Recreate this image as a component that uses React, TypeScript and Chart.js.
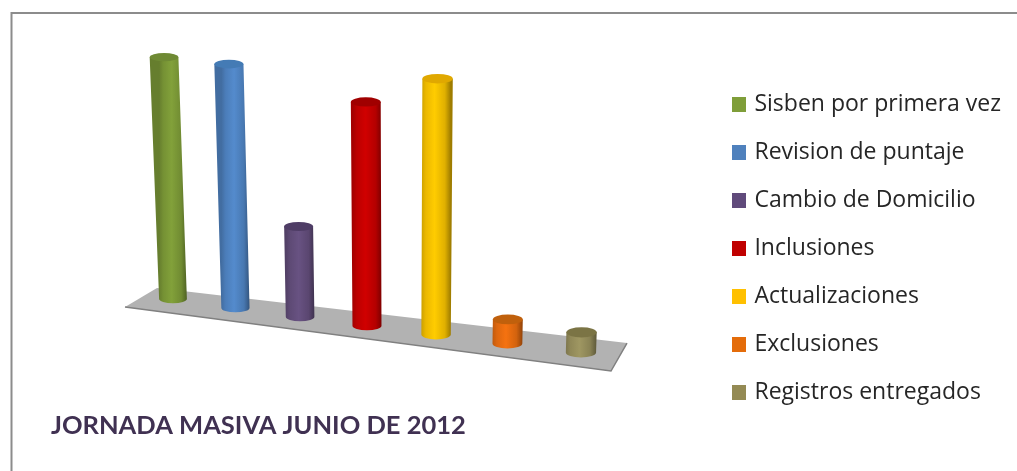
import React, { useEffect, useRef } from "react";
import { Chart, registerables } from "chart.js";

Chart.register(...registerables);

const categories = [
  "Sisben por primera vez",
  "Revision de puntaje",
  "Cambio de Domicilio",
  "Inclusiones",
  "Actualizaciones",
  "Exclusiones",
  "Registros entregados",
];
const values = [241, 243, 90, 223, 255, 24, 20];
const colors = ["#7f9e39", "#5288c9", "#66507f", "#cc0000", "#ffc800", "#f07010", "#9c9460"];
const swatchColors = ["#7f9e39", "#4f81bd", "#604a7b", "#c00000", "#ffc000", "#e46c0a", "#948a54"];
const capColors = ["#6f8a34", "#447bb5", "#4f3d66", "#a00000", "#e0a800", "#c0600c", "#7b7445"];
const titleText = "JORNADA MASIVA JUNIO DE 2012";

function shade(hex: string, k: number) {
  const n = parseInt(hex.slice(1), 16);
  const r = Math.min(255, Math.round(((n >> 16) & 255) * k));
  const g = Math.min(255, Math.round(((n >> 8) & 255) * k));
  const b = Math.min(255, Math.round((n & 255) * k));
  return `rgb(${r},${g},${b})`;
}

function swatch(color: string) {
  const c = document.createElement("canvas");
  c.width = 14;
  c.height = 15;
  const g = c.getContext("2d")!;
  g.fillStyle = color;
  g.fillRect(0, 0, 14, 15);
  return c;
}

const frame = {
  id: "frame",
  beforeDraw(chart: any) {
    const { ctx } = chart;
    ctx.save();
    ctx.strokeStyle = "#8c8c8c";
    ctx.lineWidth = 2;
    ctx.beginPath();
    ctx.moveTo(11.5, 471);
    ctx.lineTo(11.5, 13);
    ctx.lineTo(1017, 13);
    ctx.stroke();
    ctx.restore();
  },
};

const legendShift = {
  id: "legendShift",
  afterLayout(chart: any) {
    chart.legend.top += 20;
    chart.legend.bottom += 20;
  },
};

const cylinders = {
  id: "cylinders",
  afterDatasetsDraw(chart: any) {
    const { ctx } = chart;
    const meta = chart.getDatasetMeta(0);
    const zero = chart.scales.y.getPixelForValue(0);
    const mid = (chart.chartArea.left + chart.chartArea.right) / 2;
    const half = (((chart.chartArea.right - chart.chartArea.left) / 2) * 6) / 7;

    ctx.save();
    ctx.filter = "blur(0.6px)";

    // floor
    ctx.beginPath();
    ctx.moveTo(125, zero + 8);
    ctx.lineTo(157, zero - 11);
    ctx.lineTo(627, zero + 44);
    ctx.lineTo(611, zero + 72);
    ctx.closePath();
    ctx.fillStyle = "#b2b2b2";
    ctx.fill();
    ctx.beginPath();
    ctx.moveTo(125, zero + 8);
    ctx.lineTo(611, zero + 72);
    ctx.lineTo(627, zero + 44);
    ctx.strokeStyle = "#808080";
    ctx.lineWidth = 1.5;
    ctx.stroke();

    meta.data.forEach((bar: any, i: number) => {
      const t = (bar.x - mid) / half;
      const xBase = bar.x - 10 * (1 - t * t);
      const yBase = zero + i * 8.9;
      const h = bar.base - bar.y;
      const xTop = xBase + (xBase - 400) * 0.000163 * h;
      const yTop = yBase - h;
      const w = bar.width * (0.95 + 0.014 * i);
      const wTop = w + (h / 255) * 1;
      const ry = 4.2 + i * 0.15;
      const c = colors[i];

      const g = ctx.createLinearGradient(xBase - w / 2, 0, xBase + w / 2, 0);
      g.addColorStop(0, shade(c, 0.8));
      g.addColorStop(0.15, shade(c, 0.92));
      g.addColorStop(0.45, shade(c, 1.02));
      g.addColorStop(0.8, shade(c, 0.88));
      g.addColorStop(1, shade(c, 0.62));

      ctx.beginPath();
      ctx.moveTo(xTop - wTop / 2, yTop);
      ctx.lineTo(xBase - w / 2, yBase);
      ctx.ellipse(xBase, yBase, w / 2, ry, 0, Math.PI, 0, true);
      ctx.lineTo(xTop + wTop / 2, yTop);
      ctx.closePath();
      ctx.fillStyle = g;
      ctx.fill();

      ctx.beginPath();
      ctx.ellipse(xTop, yTop, wTop / 2, ry, 0, 0, Math.PI * 2);
      ctx.fillStyle = capColors[i];
      ctx.fill();
    });
    ctx.restore();
  },
};

export default function App() {
  const ref = useRef<HTMLCanvasElement | null>(null);

  useEffect(() => {
    document.body.style.margin = "0";
    const chart = new Chart(ref.current!, {
      type: "bar",
      data: {
        labels: categories,
        datasets: [
          {
            label: "Jornada",
            data: values,
            backgroundColor: "rgba(0,0,0,0)",
            borderWidth: 0,
            barPercentage: 0.43,
            categoryPercentage: 1,
          },
        ],
      },
      options: {
        responsive: false,
        animation: false,
        layout: { padding: { left: 51, right: 6, top: 15, bottom: 30 } },
        scales: {
          x: { display: false },
          y: {
            min: -111,
            max: 283,
            ticks: { display: false },
            grid: { display: false },
            border: { display: false },
            afterFit: (s: any) => {
              s.width = 88;
            },
          },
          yRight: {
            position: "right",
            min: 0,
            max: 1,
            ticks: { display: false },
            grid: { display: false },
            border: { display: false },
            afterFit: (s: any) => {
              s.width = 96;
            },
          },
        },
        plugins: {
          tooltip: { enabled: false },
          title: {
            display: true,
            position: "bottom",
            align: "start",
            text: titleText,
            color: "#403152",
            font: { family: "Lato", size: 25.5, weight: "bold" },
            padding: { top: 0, bottom: 0 },
          },
          legend: {
            display: true,
            position: "right",
            maxWidth: 320,
            labels: {
              usePointStyle: true,
              pointStyleWidth: 7,
              boxHeight: 14,
              padding: 25,
              color: "#262626",
              font: { family: "Open Sans", size: 23 },
              generateLabels: () =>
                categories.map((text, i) => ({
                  text,
                  fillStyle: swatchColors[i],
                  strokeStyle: swatchColors[i],
                  fontColor: "#262626",
                  lineWidth: 0,
                  pointStyle: swatch(swatchColors[i]),
                  datasetIndex: 0,
                  index: i,
                })),
            },
          },
        },
      },
      plugins: [frame, legendShift, cylinders],
    } as any);
    return () => chart.destroy();
  }, []);

  return (
    <div style={{ width: 1017, height: 471, background: "#fff" }}>
      <canvas ref={ref} width={1017} height={471} style={{ display: "block" }} />
    </div>
  );
}
